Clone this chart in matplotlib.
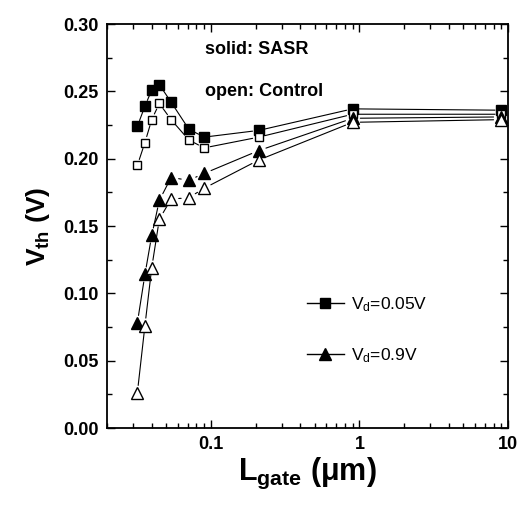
import matplotlib
matplotlib.use("Agg")
import matplotlib.pyplot as plt
from matplotlib.lines import Line2D
from matplotlib.ticker import FixedLocator, LogLocator, NullFormatter, FuncFormatter

plt.rcParams['font.family'] = ['Liberation Sans', 'DejaVu Sans']
plt.rcParams['mathtext.fontset'] = 'custom'
plt.rcParams['mathtext.rm'] = 'Liberation Sans'
plt.rcParams['mathtext.it'] = 'Liberation Sans:italic'
plt.rcParams['mathtext.bf'] = 'Liberation Sans:bold'
plt.rcParams['mathtext.default'] = 'regular'

# Gate length (um)
lgate = [0.032, 0.036, 0.040, 0.045, 0.054, 0.071, 0.090, 0.21, 0.90, 9.0]

# Threshold voltage (V)
vth_sasr_005 = [0.224, 0.239, 0.251, 0.255, 0.242, 0.222, 0.216, 0.221, 0.237, 0.236]
vth_ctrl_005 = [0.195, 0.212, 0.229, 0.241, 0.229, 0.214, 0.208, 0.216, 0.233, 0.233]
vth_sasr_09 = [0.078, 0.114, 0.143, 0.169, 0.186, 0.184, 0.189, 0.206, 0.230, 0.231]
vth_ctrl_09 = [0.026, 0.076, 0.119, 0.155, 0.170, 0.171, 0.178, 0.199, 0.227, 0.229]

legend_labels = ['V$_d$=0.05V', 'V$_d$=0.9V']
note_lines = ['solid: SASR', 'open: Control']

fig = plt.figure(figsize=(5.24, 5.11), dpi=100)
ax = fig.add_axes([0.2042, 0.1624, 0.7653, 0.7906])
ax.set_xscale('log')
ax.set_xlim(0.02, 10)
ax.set_ylim(0.0, 0.30)


def connect(xs, ys, gap):
    # thin connecting segments that stop short of each marker
    for i in range(len(xs) - 1):
        ax.annotate('', xy=(xs[i + 1], ys[i + 1]), xytext=(xs[i], ys[i]),
                    arrowprops=dict(arrowstyle='-', color='black', lw=0.8,
                                    shrinkA=gap, shrinkB=gap))


series = [
    (vth_sasr_005, 's', 'black', 6.5, 4.5),
    (vth_ctrl_005, 's', 'white', 6.0, 4.5),
    (vth_sasr_09, '^', 'black', 9.0, 5.5),
    (vth_ctrl_09, '^', 'white', 9.0, 5.5),
]
for ys, mk, face, ms, gap in series:
    connect(lgate, ys, gap)
    ax.plot(lgate, ys, linestyle='none', marker=mk, ms=ms,
            markerfacecolor=face, markeredgecolor='black', markeredgewidth=1.0,
            zorder=3)

# axes styling
for sp in ax.spines.values():
    sp.set_linewidth(1.3)
ax.tick_params(which='both', direction='in', top=True, right=True, width=1.0)
ax.tick_params(which='major', length=6, labelsize=13, pad=6)
ax.tick_params(which='minor', length=3.5)
ax.xaxis.set_major_locator(FixedLocator([0.1, 1, 10]))
ax.xaxis.set_minor_locator(LogLocator(base=10, subs=range(2, 10), numticks=20))
ax.xaxis.set_minor_formatter(NullFormatter())
ax.xaxis.set_major_formatter(FuncFormatter(lambda v, p: f'{v:g}'))
ax.yaxis.set_major_locator(FixedLocator([0.0, 0.05, 0.10, 0.15, 0.20, 0.25, 0.30]))
ax.yaxis.set_minor_locator(FixedLocator([0.025, 0.075, 0.125, 0.175, 0.225, 0.275]))
ax.yaxis.set_major_formatter(FuncFormatter(lambda v, p: f'{v:.2f}'))
for lab in ax.get_xticklabels() + ax.get_yticklabels():
    lab.set_fontweight('bold')

ax.set_xlabel('L$_{\\mathbf{gate}}$ (\u03bcm)', fontsize=22, fontweight='bold', labelpad=2)
ax.set_ylabel('V$_{\\mathbf{th}}$ (V)', fontsize=19, fontweight='bold', labelpad=8)

ax.text(0.244, 0.936, note_lines[0], transform=ax.transAxes, fontsize=13,
        fontweight='bold', va='center', ha='left')
ax.text(0.244, 0.832, note_lines[1], transform=ax.transAxes, fontsize=13,
        fontweight='bold', va='center', ha='left')

handles = [
    Line2D([], [], color='black', lw=1.0, marker='s', ms=7, markerfacecolor='black'),
    Line2D([], [], color='black', lw=1.0, marker='^', ms=9, markerfacecolor='black'),
]
ax.legend(handles, legend_labels, loc='center left', bbox_to_anchor=(0.499, 0.2426),
          frameon=False, fontsize=12.5, handlelength=2.1, handletextpad=0.4,
          labelspacing=1.9, borderpad=0, borderaxespad=0)

fig.savefig('out.png', dpi=100)
